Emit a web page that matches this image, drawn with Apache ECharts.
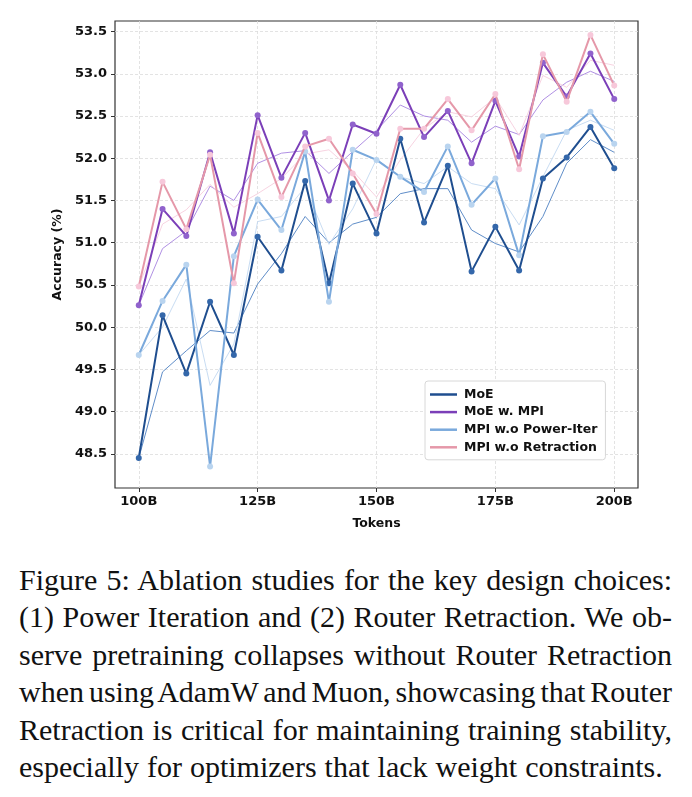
<!DOCTYPE html>
<html lang="en">
<head>
    <meta charset="utf-8">
    <title>Ablation studies</title>
    <script src="https://cdn.jsdelivr.net/npm/echarts@6/dist/echarts.min.js"></script>
    <style>
        body { margin: 0; background: #fff; width: 692px; height: 797px; position: relative; overflow: hidden; }
        #main { position: absolute; left: 0; top: 0; width: 692px; height: 545px; }
        #caption { position: absolute; left: 19px; top: 561px; width: 653px;
            font-family: "Liberation Serif", "DejaVu Serif", serif; font-size: 30px; line-height: 37.4px;
            word-spacing: -3px; color: #111; }
        #caption div { text-align: justify; text-align-last: justify; white-space: nowrap; }
        #caption div.last { text-align-last: left; word-spacing: 0.5px; }
    </style>
</head>
<body>
<div id="main"></div>
<div id="caption">
    <div>Figure 5: Ablation studies for the key design choices:</div>
    <div>(1) Power Iteration and (2) Router Retraction. We ob-</div>
    <div>serve pretraining collapses without Router Retraction</div>
    <div>when using AdamW and Muon, showcasing that Router</div>
    <div>Retraction is critical for maintaining training stability,</div>
    <div class="last">especially for optimizers that lack weight constraints.</div>
</div>
<script>
    // tokens (B) and accuracy (%)
    var tokens = [100, 105, 110, 115, 120, 125, 130, 135, 140, 145, 150, 155, 160, 165, 170, 175, 180, 185, 190, 195, 200];
    var yTicks = [48.5, 49.0, 49.5, 50.0, 50.5, 51.0, 51.5, 52.0, 52.5, 53.0, 53.5];

    var moe = [48.45, 50.14, 49.45, 50.30, 49.67, 51.07, 50.67, 51.73, 50.52, 51.70, 51.11, 52.23, 51.24, 51.91, 50.66, 51.19, 50.67, 51.76, 52.01, 52.37, 51.88];
    var moeMpi = [50.26, 51.40, 51.08, 52.07, 51.11, 52.51, 51.77, 52.30, 51.50, 52.40, 52.29, 52.87, 52.25, 52.56, 51.94, 52.68, 52.02, 53.13, 52.73, 53.24, 52.70];
    var noPowerIter = [49.67, 50.31, 50.74, 48.35, 50.84, 51.51, 51.15, 52.08, 50.30, 52.10, 51.98, 51.78, 51.60, 52.14, 51.45, 51.76, 50.85, 52.26, 52.31, 52.55, 52.17];
    var noRetraction = [50.48, 51.72, 51.16, 52.04, 50.52, 52.30, 51.54, 52.14, 52.23, 51.82, 51.34, 52.35, 52.35, 52.70, 52.33, 52.76, 51.87, 53.23, 52.67, 53.46, 52.86];

    // thin trend lines
    var moeTrend = [48.45, 49.47, 49.72, 49.96, 49.93, 50.51, 50.87, 51.31, 51.00, 51.22, 51.30, 51.58, 51.64, 51.64, 51.15, 50.99, 50.89, 51.31, 51.94, 52.22, 52.07];
    var mpiTrend = [50.26, 50.93, 51.14, 51.67, 51.50, 51.94, 52.06, 52.09, 51.82, 52.08, 52.33, 52.63, 52.50, 52.45, 52.19, 52.38, 52.28, 52.69, 52.90, 53.03, 52.91];
    var powerIterTrend = [49.67, 50.00, 50.57, 49.31, 49.80, 51.25, 51.31, 51.66, 50.98, 51.40, 51.99, 51.78, 51.70, 51.90, 51.70, 51.64, 51.21, 51.78, 52.33, 52.45, 52.33];
    var retractionTrend = [50.48, 51.22, 51.39, 51.69, 51.42, 51.58, 51.76, 52.05, 52.10, 51.85, 51.54, 51.98, 52.35, 52.55, 52.49, 52.72, 52.27, 52.98, 52.84, 53.16, 53.10];

    // x axis padded by 5B each side (matplotlib margins)
    var xCats = [String(tokens[0] - 5)].concat(tokens.map(String), [String(tokens[tokens.length - 1] + 5)]);

    function pairs(values) {
        return values.map(function (v, i) { return [String(tokens[i]), v]; });
    }

    function isMajor(index, value) {
        return Number(value) % 25 === 0;
    }

    var font = 'DejaVu Sans';

    function mainSeries(name, values, lineColor, markerColor, z) {
        return {
            name: name, type: 'line', data: pairs(values), z: z,
            symbol: 'circle', symbolSize: 6, showSymbol: true,
            lineStyle: {color: lineColor, width: 2},
            itemStyle: {color: markerColor, borderWidth: 0},
            emphasis: {disabled: true}
        };
    }

    function trendSeries(values, color) {
        return {
            type: 'line', data: pairs(values), z: 1, symbol: 'none',
            lineStyle: {color: color, width: 0.9},
            emphasis: {disabled: true}
        };
    }

    var myChart = echarts.init(document.getElementById('main'));

    var option = {
        animation: false,
        backgroundColor: '#fff',
        grid: {left: 115, top: 21, width: 523, height: 467, show: true, borderColor: '#333', borderWidth: 1.2, backgroundColor: 'transparent'},
        legend: {
            orient: 'vertical', left: 425, top: 381, width: 181,
            padding: [7, 8, 6, 5], itemGap: 4.6, itemWidth: 27, itemHeight: 2.5, icon: 'rect',
            backgroundColor: '#fff', borderColor: '#d8d8d8', borderWidth: 1, borderRadius: 3,
            textStyle: {fontFamily: font, fontWeight: 'bold', fontSize: 12.5, color: '#111', padding: [0, 0, 0, 2]},
            data: [
                {name: 'MoE', itemStyle: {color: '#1f4e8f'}},
                {name: 'MoE w. MPI', itemStyle: {color: '#7b3fb8'}},
                {name: 'MPI w.o Power-Iter', itemStyle: {color: '#7aa9dc'}},
                {name: 'MPI w.o Retraction', itemStyle: {color: '#e598a9'}}
            ]
        },
        xAxis: {
            type: 'category', data: xCats, boundaryGap: false,
            name: 'Tokens', nameLocation: 'middle', nameGap: 29,
            nameTextStyle: {fontFamily: font, fontWeight: 'bold', fontSize: 12.5, color: '#111'},
            axisLine: {show: false},
            axisTick: {show: true, interval: isMajor, length: 4, lineStyle: {color: '#333'}},
            axisLabel: {interval: isMajor, margin: 7, fontFamily: font, fontWeight: 'bold', fontSize: 13, color: '#111',
                formatter: function (v) { return v + 'B'; }},
            splitLine: {show: true, interval: isMajor, lineStyle: {color: '#dcdcdc', type: [3, 2], width: 0.8}}
        },
        yAxis: {
            type: 'value', min: 48.095, max: 53.625, splitNumber: 11,
            name: 'Accuracy (%)', nameLocation: 'middle', nameGap: 51, nameRotate: 90,
            nameTextStyle: {fontFamily: font, fontWeight: 'bold', fontSize: 12.5, color: '#111'},
            axisLine: {show: false},
            axisTick: {show: true, length: 4, lineStyle: {color: '#333'}, customValues: yTicks},
            axisLabel: {margin: 8, fontFamily: font, fontWeight: 'bold', fontSize: 13, color: '#111',
                customValues: yTicks,
                formatter: function (v) { return v.toFixed(1); }},
            splitLine: {show: true, lineStyle: {color: '#dcdcdc', type: [3, 2], width: 0.8}}
        },
        series: [
            trendSeries(moeTrend, '#4d80c2'),
            trendSeries(mpiTrend, '#a783e0'),
            trendSeries(powerIterTrend, '#c2d8f0'),
            trendSeries(retractionTrend, '#f6cede'),
            mainSeries('MoE', moe, '#1f4e8f', '#3467aa', 3),
            mainSeries('MoE w. MPI', moeMpi, '#7b3fb8', '#9062cc', 4),
            mainSeries('MPI w.o Power-Iter', noPowerIter, '#7aa9dc', '#b9d4ef', 5),
            mainSeries('MPI w.o Retraction', noRetraction, '#e598a9', '#f7c8da', 6)
        ]
    };

    myChart.setOption(option);
</script>
</body>
</html>
